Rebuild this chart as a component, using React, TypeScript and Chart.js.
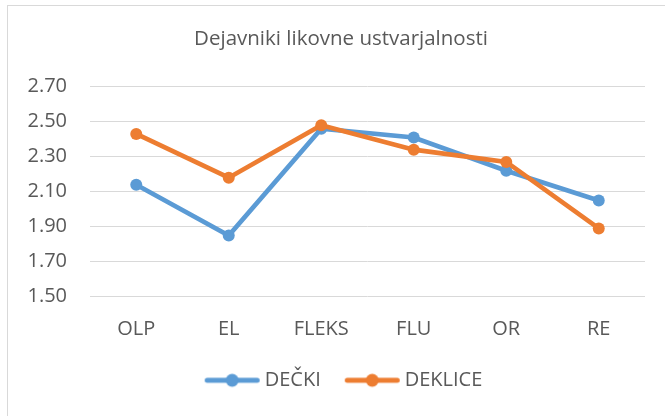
import React, { useEffect, useRef } from "react";
import { Chart, registerables } from "chart.js";

Chart.register(...registerables);

const categories = ["OLP", "EL", "FLEKS", "FLU", "OR", "RE"];
const decki = [2.14, 1.85, 2.46, 2.41, 2.22, 2.05];
const deklice = [2.43, 2.18, 2.48, 2.34, 2.27, 1.89];
const seriesNames = ["DEČKI", "DEKLICE"];
const seriesColors = ["#5B9BD5", "#ED7D31"];
const titleText = "Dejavniki likovne ustvarjalnosti";
const yMin = 1.5;
const yMax = 2.7;
const yStep = 0.2;

const FONT = "'Open Sans', sans-serif";
const TEXT = "#595959";

// legend icon: transparent on the left, line + marker on the right
function legendIcon(color: string): HTMLCanvasElement {
  const c = document.createElement("canvas");
  c.width = 78;
  c.height = 16;
  const ctx = c.getContext("2d")!;
  ctx.strokeStyle = color;
  ctx.lineWidth = 5;
  ctx.lineCap = "round";
  ctx.beginPath();
  ctx.moveTo(23.5, 8);
  ctx.lineTo(73.5, 8);
  ctx.stroke();
  ctx.fillStyle = color;
  ctx.beginPath();
  ctx.arc(48.5, 8, 6.5, 0, Math.PI * 2);
  ctx.fill();
  return c;
}

const shiftBoxes = {
  id: "shiftBoxes",
  afterLayout(chart: any) {
    if (chart.titleBlock) chart.titleBlock.left = 37;
    if (chart.legend) chart.legend.left = 28;
  },
};

export default function App() {
  const ref = useRef<HTMLCanvasElement>(null);
  useEffect(() => {
    const icons = seriesColors.map(legendIcon);
    const chart = new Chart(ref.current!, {
      type: "line",
      data: {
        labels: categories,
        datasets: [
          {
            label: seriesNames[0],
            data: decki,
            borderColor: seriesColors[0],
            backgroundColor: seriesColors[0],
            borderWidth: 4.7,
            pointRadius: 6,
            pointHoverRadius: 6,
            pointBorderWidth: 0,
            order: 1,
          },
          {
            label: seriesNames[1],
            data: deklice,
            borderColor: seriesColors[1],
            backgroundColor: seriesColors[1],
            borderWidth: 4.7,
            pointRadius: 6,
            pointHoverRadius: 6,
            pointBorderWidth: 0,
            order: 0,
          },
        ],
      },
      plugins: [shiftBoxes],
      options: {
        responsive: false,
        animation: false,
        elements: { line: { tension: 0 }, point: { pointStyle: "circle" } },
        layout: { padding: { left: 0, right: 20, top: 0, bottom: 15.7 } },
        plugins: {
          tooltip: { enabled: false },
          title: {
            display: true,
            text: titleText,
            color: TEXT,
            font: { family: FONT, size: 20.5, weight: "normal" as any, lineHeight: 1.2 },
            padding: { top: 27.2, bottom: 34.9 },
          },
          legend: {
            position: "bottom",
            labels: {
              color: TEXT,
              font: { family: FONT, size: 20 },
              usePointStyle: true,
              pointStyleWidth: 64,
              padding: 10,
              generateLabels: (ch: any) =>
                ch.data.datasets.map((ds: any, i: number) => ({
                  text: ds.label,
                  fillStyle: seriesColors[i],
                  strokeStyle: seriesColors[i],
                  fontColor: TEXT,
                  lineWidth: 0,
                  pointStyle: icons[i],
                  hidden: false,
                  datasetIndex: i,
                })),
            },
          },
        },
        scales: {
          x: {
            offset: true,
            grid: { display: false, drawTicks: false, offset: true },
            border: { display: false },
            ticks: { color: TEXT, font: { family: FONT, size: 20 }, padding: 21, maxRotation: 0 },
            afterFit: (s: any) => {
              s.height = 63.6;
            },
          },
          y: {
            min: yMin,
            max: yMax,
            grid: { color: "#d9d9d9", lineWidth: 1, drawTicks: false },
            border: { display: false },
            ticks: {
              stepSize: yStep,
              color: TEXT,
              font: { family: FONT, size: 20 },
              padding: 23,
              callback: (v: any) => Number(v).toFixed(2),
            },
            afterFit: (s: any) => {
              s.width = 90;
            },
          },
        },
      },
    });
    return () => chart.destroy();
  }, []);
  return (
    <div style={{ position: "fixed", left: 0, top: 0, width: 665, height: 416, background: "#fff", overflow: "hidden" }}>
      <div
        style={{
          position: "absolute",
          left: 7,
          top: 5,
          width: 700,
          height: 500,
          border: "1px solid #d9d9d9",
          boxSizing: "border-box",
        }}
      />
      <canvas ref={ref} width={665} height={416} style={{ position: "absolute", left: 0, top: 0 }} />
    </div>
  );
}
